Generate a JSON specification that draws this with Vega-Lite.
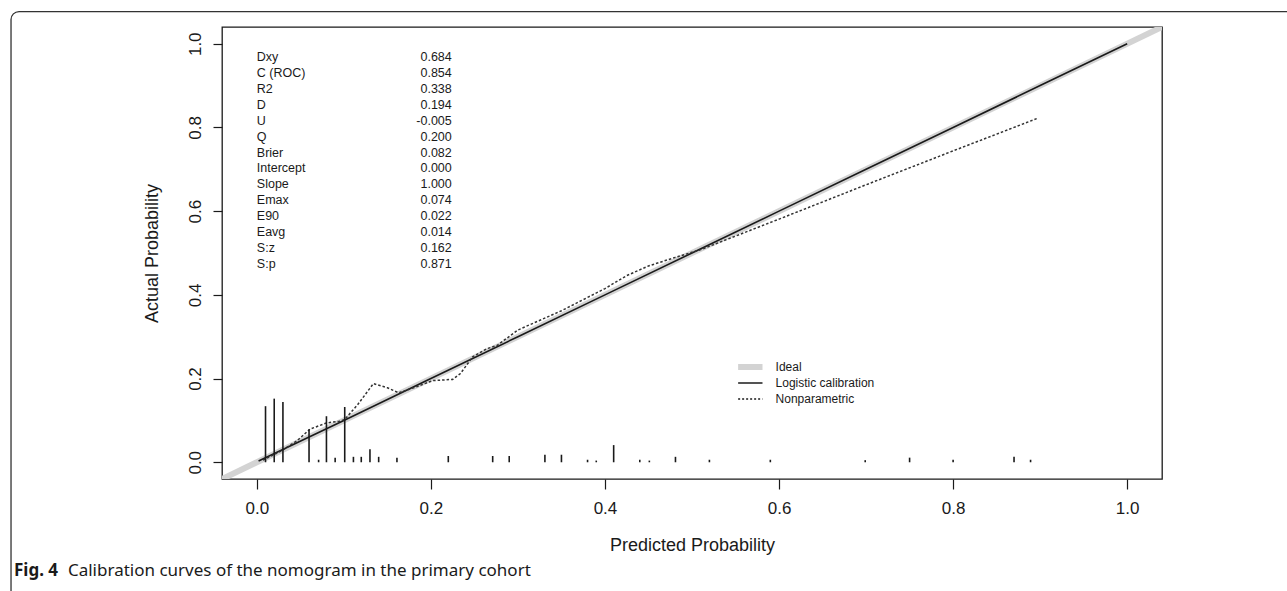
{
  "$schema": "https://vega.github.io/schema/vega-lite/v6.json",
  "width": 940,
  "height": 452,
  "autosize": {"type": "none"},
  "padding": {"left": 222, "top": 27, "right": 125, "bottom": 112},
  "background": "white",
  "config": {
    "view": {"stroke": "#1a1a1a", "strokeWidth": 1.3},
    "font": "Liberation Sans",
    "axis": {
      "domain": false,
      "grid": false,
      "tickColor": "#1a1a1a",
      "tickWidth": 1.2,
      "labelColor": "#1a1a1a",
      "titleColor": "#1a1a1a",
      "labelFont": "Liberation Sans",
      "titleFont": "Liberation Sans",
      "labelFontSize": 17,
      "titleFontSize": 18,
      "titleFontWeight": "normal"
    }
  },
  "datasets": {
    "ideal": [{"x": -0.04, "y": -0.04}, {"x": 1.04, "y": 1.04}],
    "logistic": [
      {"x": 0.002, "y": 0.003}, {"x": 0.1, "y": 0.1}, {"x": 0.2, "y": 0.2}, {"x": 0.3, "y": 0.3},
      {"x": 0.4, "y": 0.4}, {"x": 0.5, "y": 0.5}, {"x": 0.6, "y": 0.6}, {"x": 0.7, "y": 0.7},
      {"x": 0.8, "y": 0.8}, {"x": 0.9, "y": 0.9}, {"x": 1.0, "y": 1.0}
    ],
    "nonpar": [
      {"x": 0.007, "y": 0.005}, {"x": 0.028, "y": 0.027}, {"x": 0.046, "y": 0.051},
      {"x": 0.061, "y": 0.079}, {"x": 0.080, "y": 0.094}, {"x": 0.095, "y": 0.098},
      {"x": 0.101, "y": 0.102}, {"x": 0.116, "y": 0.138}, {"x": 0.134, "y": 0.188},
      {"x": 0.150, "y": 0.178}, {"x": 0.163, "y": 0.166}, {"x": 0.183, "y": 0.180},
      {"x": 0.202, "y": 0.195}, {"x": 0.225, "y": 0.198}, {"x": 0.234, "y": 0.212},
      {"x": 0.248, "y": 0.252}, {"x": 0.264, "y": 0.271}, {"x": 0.276, "y": 0.279},
      {"x": 0.300, "y": 0.316}, {"x": 0.350, "y": 0.362}, {"x": 0.400, "y": 0.415},
      {"x": 0.425, "y": 0.446}, {"x": 0.450, "y": 0.469}, {"x": 0.480, "y": 0.489},
      {"x": 0.510, "y": 0.508}, {"x": 0.600, "y": 0.581}, {"x": 0.700, "y": 0.663},
      {"x": 0.800, "y": 0.744}, {"x": 0.896, "y": 0.821}
    ],
    "spikes": [
      {"x": 0.010, "h": 0.134}, {"x": 0.020, "h": 0.152}, {"x": 0.030, "h": 0.144},
      {"x": 0.060, "h": 0.079}, {"x": 0.071, "h": 0.006}, {"x": 0.080, "h": 0.110},
      {"x": 0.090, "h": 0.011}, {"x": 0.101, "h": 0.132}, {"x": 0.111, "h": 0.013},
      {"x": 0.120, "h": 0.013}, {"x": 0.130, "h": 0.031}, {"x": 0.140, "h": 0.013},
      {"x": 0.161, "h": 0.011}, {"x": 0.220, "h": 0.015}, {"x": 0.271, "h": 0.015},
      {"x": 0.290, "h": 0.015}, {"x": 0.331, "h": 0.018}, {"x": 0.350, "h": 0.018},
      {"x": 0.380, "h": 0.006}, {"x": 0.390, "h": 0.004}, {"x": 0.410, "h": 0.041},
      {"x": 0.440, "h": 0.006}, {"x": 0.451, "h": 0.004}, {"x": 0.481, "h": 0.013},
      {"x": 0.520, "h": 0.006}, {"x": 0.590, "h": 0.006}, {"x": 0.699, "h": 0.005},
      {"x": 0.750, "h": 0.011}, {"x": 0.800, "h": 0.006}, {"x": 0.870, "h": 0.013},
      {"x": 0.889, "h": 0.006}
    ],
    "stats": [
      {"stat": "Dxy", "value": "0.684"},
      {"stat": "C (ROC)", "value": "0.854"},
      {"stat": "R2", "value": "0.338"},
      {"stat": "D", "value": "0.194"},
      {"stat": "U", "value": "-0.005"},
      {"stat": "Q", "value": "0.200"},
      {"stat": "Brier", "value": "0.082"},
      {"stat": "Intercept", "value": "0.000"},
      {"stat": "Slope", "value": "1.000"},
      {"stat": "Emax", "value": "0.074"},
      {"stat": "E90", "value": "0.022"},
      {"stat": "Eavg", "value": "0.014"},
      {"stat": "S:z", "value": "0.162"},
      {"stat": "S:p", "value": "0.871"}
    ],
    "legend": [
      {"series": "Ideal"},
      {"series": "Logistic calibration"},
      {"series": "Nonparametric"}
    ],
    "one": [{}]
  },
  "layer": [
    {
      "layer": [
        {
          "data": {"name": "one"},
          "mark": {"type": "rect", "fill": "transparent", "stroke": "#333333", "strokeWidth": 1.3, "cornerRadius": 8, "clip": false},
          "encoding": {
            "x": {"datum": -0.2824, "type": "quantitative", "scale": {"domain": [-0.04, 1.04], "nice": false, "zero": false}},
            "x2": {"datum": 1.2},
            "y": {"datum": 1.0769, "type": "quantitative", "scale": {"domain": [-0.04, 1.04], "nice": false, "zero": false}},
            "y2": {"datum": -0.35}
          }
        },
        {
          "data": {"name": "ideal"},
          "mark": {"type": "line", "color": "#d3d3d3", "strokeWidth": 6, "clip": true},
          "encoding": {
            "x": {
              "field": "x", "type": "quantitative",
              "scale": {"domain": [-0.04, 1.04], "nice": false, "zero": false},
              "axis": {"values": [0, 0.2, 0.4, 0.6, 0.8, 1.0], "format": ".1f", "tickSize": 10, "labelPadding": 11, "titlePadding": 20, "title": "Predicted Probability"}
            },
            "y": {
              "field": "y", "type": "quantitative",
              "scale": {"domain": [-0.04, 1.04], "nice": false, "zero": false},
              "axis": {"values": [0, 0.2, 0.4, 0.6, 0.8, 1.0], "format": ".1f", "tickSize": 9, "labelPadding": 9, "labelAngle": -90, "titlePadding": 25, "title": "Actual Probability"}
            }
          }
        },
        {
          "data": {"name": "logistic"},
          "mark": {"type": "line", "color": "#1a1a1a", "strokeWidth": 1.6},
          "encoding": {
            "x": {"field": "x", "type": "quantitative"},
            "y": {"field": "y", "type": "quantitative"}
          }
        },
        {
          "data": {"name": "nonpar"},
          "mark": {"type": "line", "color": "#333333", "strokeWidth": 1.5, "strokeDash": [2.5, 2]},
          "encoding": {
            "x": {"field": "x", "type": "quantitative"},
            "y": {"field": "y", "type": "quantitative"}
          }
        },
        {
          "data": {"name": "spikes"},
          "mark": {"type": "rule", "color": "#1a1a1a", "strokeWidth": 1.6},
          "encoding": {
            "x": {"field": "x", "type": "quantitative"},
            "y": {"field": "h", "type": "quantitative"},
            "y2": {"datum": 0}
          }
        },
        {
          "data": {"name": "one"},
          "mark": {"type": "text", "align": "left", "baseline": "middle", "font": "Noto Sans", "fontSize": 17, "fontWeight": "bold", "color": "#1a1a1a", "clip": false},
          "encoding": {
            "x": {"datum": -0.279, "type": "quantitative"},
            "y": {"datum": -0.2595, "type": "quantitative"},
            "text": {"value": "Fig. 4"}
          }
        },
        {
          "data": {"name": "one"},
          "mark": {"type": "text", "align": "left", "baseline": "middle", "font": "Noto Sans", "fontSize": 17, "color": "#1a1a1a", "clip": false},
          "encoding": {
            "x": {"datum": -0.217, "type": "quantitative"},
            "y": {"datum": -0.2595, "type": "quantitative"},
            "text": {"value": "Calibration curves of the nomogram in the primary cohort"}
          }
        }
      ]
    },
    {
      "data": {"name": "stats"},
      "encoding": {
        "y": {"field": "stat", "type": "ordinal", "sort": null, "scale": {"type": "point", "range": [30, 237], "padding": 0}, "axis": null}
      },
      "layer": [
        {
          "mark": {"type": "text", "align": "left", "baseline": "middle", "fontSize": 12.5, "font": "Liberation Sans", "color": "#1a1a1a"},
          "encoding": {"x": {"datum": 0, "type": "quantitative"}, "text": {"field": "stat"}}
        },
        {
          "mark": {"type": "text", "align": "right", "baseline": "middle", "fontSize": 12.5, "font": "Liberation Sans", "color": "#1a1a1a"},
          "encoding": {"x": {"datum": 0.224, "type": "quantitative"}, "text": {"field": "value"}}
        }
      ]
    },
    {
      "data": {"name": "legend"},
      "encoding": {
        "y": {"field": "series", "type": "ordinal", "sort": null, "scale": {"type": "point", "range": [340, 372], "padding": 0}, "axis": null}
      },
      "layer": [
        {
          "mark": {"type": "rule"},
          "encoding": {
            "x": {"datum": 0.553, "type": "quantitative"},
            "x2": {"datum": 0.581},
            "color": {"condition": {"test": "datum.series === 'Ideal'", "value": "#d3d3d3"}, "value": "#1a1a1a"},
            "strokeWidth": {"condition": {"test": "datum.series === 'Ideal'", "value": 6}, "value": 1.5},
            "strokeDash": {"condition": {"test": "datum.series === 'Nonparametric'", "value": [2, 2]}, "value": [1, 0]}
          }
        },
        {
          "mark": {"type": "text", "align": "left", "baseline": "middle", "fontSize": 12, "font": "Liberation Sans", "color": "#1a1a1a"},
          "encoding": {"x": {"datum": 0.596, "type": "quantitative"}, "text": {"field": "series"}}
        }
      ]
    }
  ],
  "resolve": {"scale": {"y": "independent"}}
}
